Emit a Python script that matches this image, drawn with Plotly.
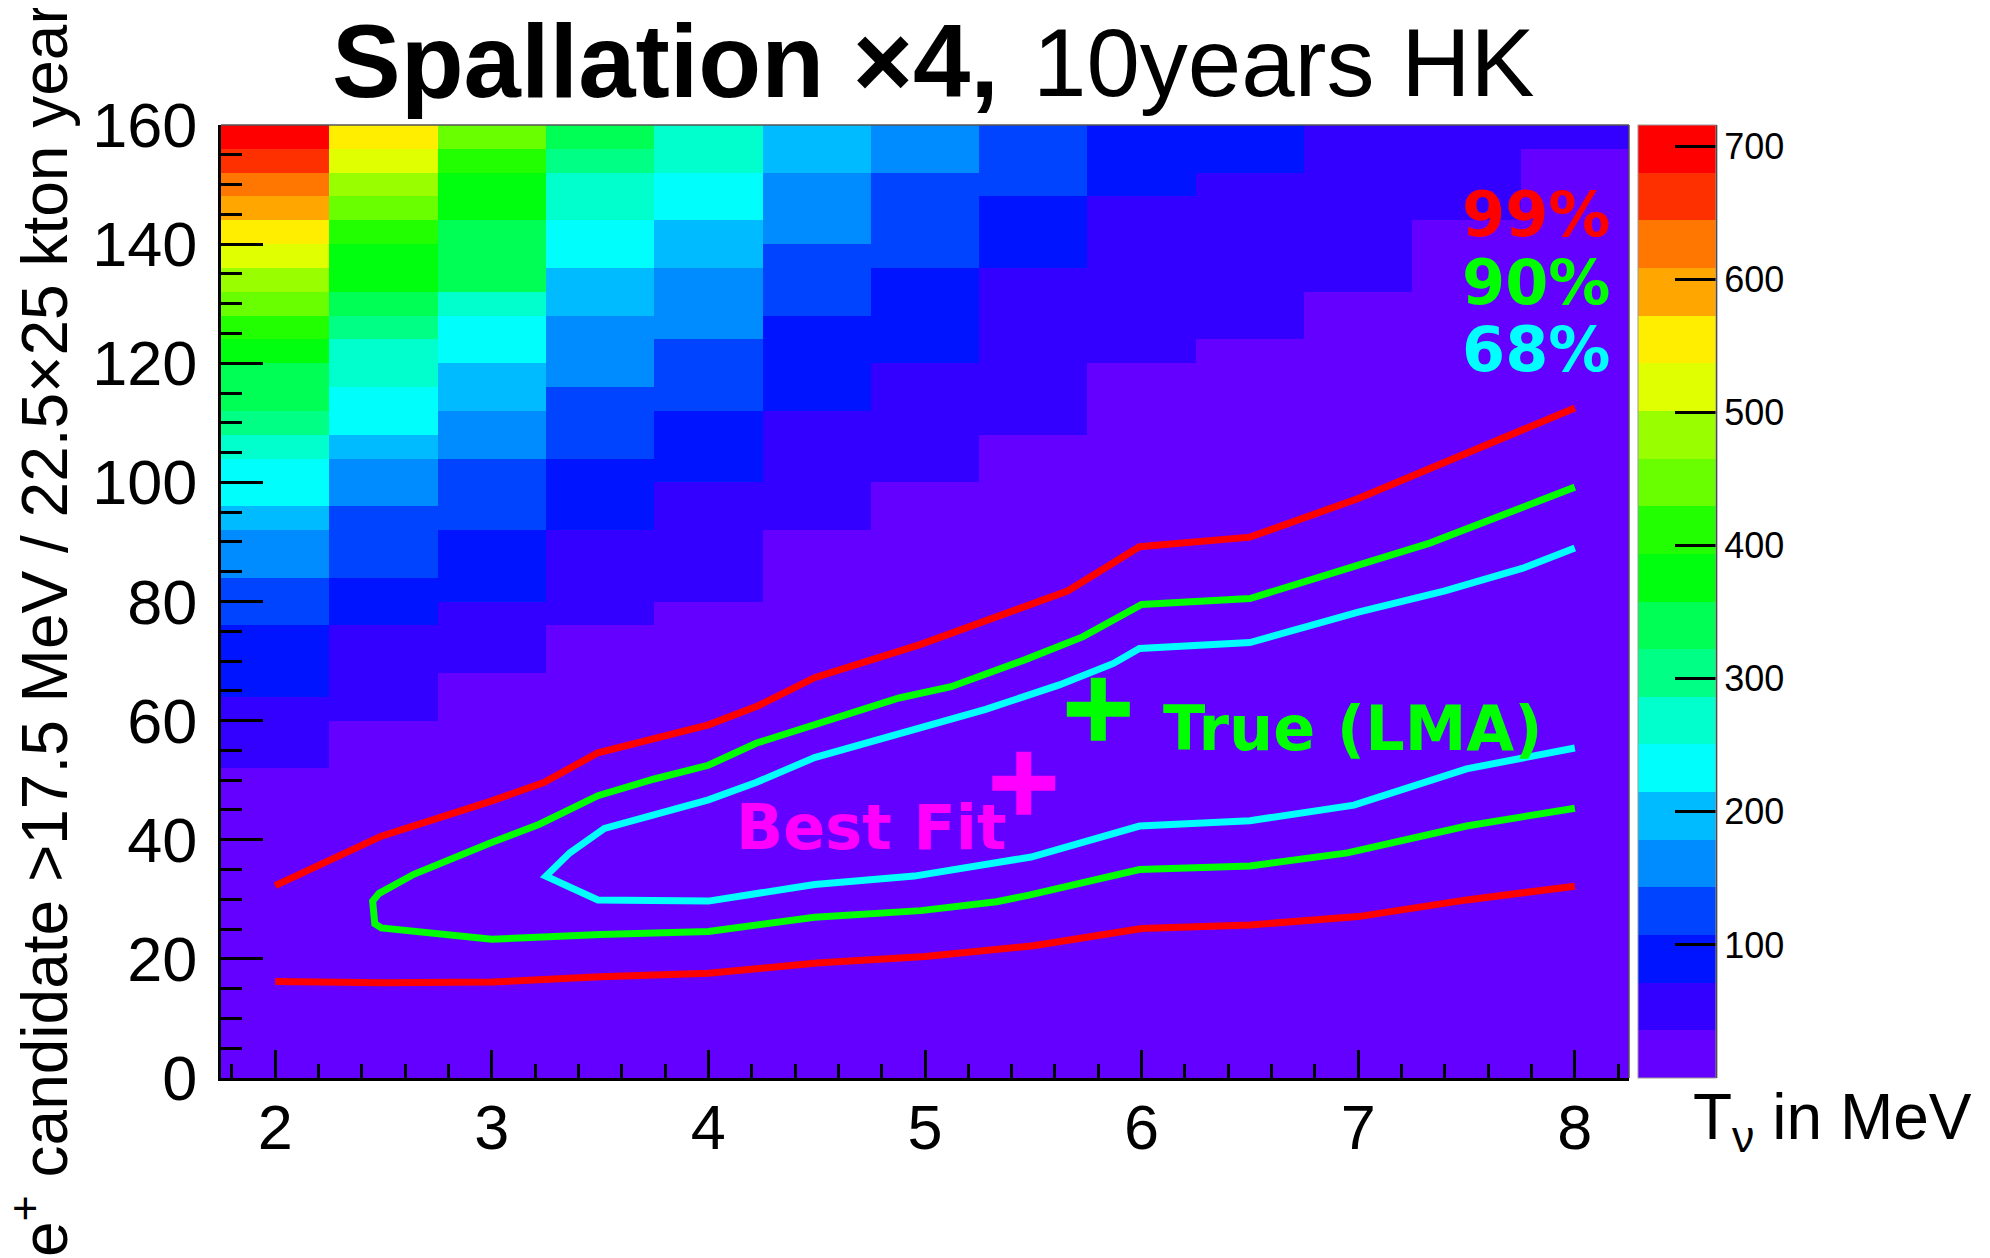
import colorsys
import plotly.graph_objects as go

# ---------------- data ----------------
T_nu = [2.0, 2.5, 3.0, 3.5, 4.0, 4.5, 5.0, 5.5, 6.0, 6.5, 7.0, 7.5, 8.0]
n_cand = [158, 154, 150, 146, 142, 138, 134, 130, 126, 122, 118, 114, 110, 106,
          102, 98, 94, 90, 86, 82, 78, 74, 70, 66, 62, 58, 54, 50, 46, 42, 38,
          34, 30, 26, 22, 18, 14, 10, 6, 2]
# bin contents, one row per n_cand bin (top to bottom), one column per T_nu bin
counts = [
    [716, 555, 448, 340, 269, 197, 161, 125, 90, 90, 54, 54, 54],
    [662, 519, 412, 304, 269, 197, 161, 125, 90, 90, 54, 54, 18],
    [627, 483, 376, 269, 233, 161, 125, 125, 90, 54, 54, 54, 18],
    [591, 448, 376, 269, 233, 161, 125, 90, 54, 54, 54, 54, 18],
    [555, 412, 340, 233, 197, 161, 125, 90, 54, 54, 54, 18, 18],
    [519, 376, 340, 233, 197, 125, 125, 90, 54, 54, 54, 18, 18],
    [483, 376, 340, 197, 161, 125, 90, 54, 54, 54, 54, 18, 18],
    [448, 340, 269, 197, 161, 125, 90, 54, 54, 54, 18, 18, 18],
    [412, 304, 233, 161, 161, 90, 90, 54, 54, 54, 18, 18, 18],
    [376, 269, 233, 161, 125, 90, 90, 54, 54, 18, 18, 18, 18],
    [340, 269, 197, 161, 125, 90, 54, 54, 18, 18, 18, 18, 18],
    [340, 233, 197, 125, 125, 90, 54, 54, 18, 18, 18, 18, 18],
    [304, 233, 161, 125, 90, 54, 54, 54, 18, 18, 18, 18, 18],
    [269, 197, 161, 125, 90, 54, 54, 18, 18, 18, 18, 18, 18],
    [233, 161, 125, 90, 90, 54, 54, 18, 18, 18, 18, 18, 18],
    [233, 161, 125, 90, 54, 54, 18, 18, 18, 18, 18, 18, 18],
    [197, 125, 125, 90, 54, 54, 18, 18, 18, 18, 18, 18, 18],
    [161, 125, 90, 54, 54, 18, 18, 18, 18, 18, 18, 18, 18],
    [161, 125, 90, 54, 54, 18, 18, 18, 18, 18, 18, 18, 18],
    [125, 90, 90, 54, 54, 18, 18, 18, 18, 18, 18, 18, 18],
    [125, 90, 54, 54, 18, 18, 18, 18, 18, 18, 18, 18, 18],
    [90, 54, 54, 18, 18, 18, 18, 18, 18, 18, 18, 18, 18],
    [90, 54, 54, 18, 18, 18, 18, 18, 18, 18, 18, 18, 18],
    [90, 54, 18, 18, 18, 18, 18, 18, 18, 18, 18, 18, 18],
    [54, 54, 18, 18, 18, 18, 18, 18, 18, 18, 18, 18, 18],
    [54, 18, 18, 18, 18, 18, 18, 18, 18, 18, 18, 18, 18],
    [54, 18, 18, 18, 18, 18, 18, 18, 18, 18, 18, 18, 18],
    [18, 18, 18, 18, 18, 18, 18, 18, 18, 18, 18, 18, 18],
    [18, 18, 18, 18, 18, 18, 18, 18, 18, 18, 18, 18, 18],
    [18, 18, 18, 18, 18, 18, 18, 18, 18, 18, 18, 18, 18],
    [18, 18, 18, 18, 18, 18, 18, 18, 18, 18, 18, 18, 18],
    [18, 18, 18, 18, 18, 18, 18, 18, 18, 18, 18, 18, 18],
    [18, 18, 18, 18, 18, 18, 18, 18, 18, 18, 18, 18, 18],
    [18, 18, 18, 18, 18, 18, 18, 18, 18, 18, 18, 18, 18],
    [18, 18, 18, 18, 18, 18, 18, 18, 18, 18, 18, 18, 18],
    [18, 18, 18, 18, 18, 18, 18, 18, 18, 18, 18, 18, 18],
    [18, 18, 18, 18, 18, 18, 18, 18, 18, 18, 18, 18, 18],
    [18, 18, 18, 18, 18, 18, 18, 18, 18, 18, 18, 18, 18],
    [18, 18, 18, 18, 18, 18, 18, 18, 18, 18, 18, 18, 18],
    [18, 18, 18, 18, 18, 18, 18, 18, 18, 18, 18, 18, 18],
]
z_max = 716
n_levels = 20

# 99% contour (two branches)
c99_up_x = [2.0, 2.49, 2.99, 3.24, 3.49, 4.0, 4.23, 4.49, 4.98, 5.45, 5.66, 5.99, 6.5, 7.0, 7.5, 8.0]
c99_up_y = [32.3, 40.6, 46.4, 49.6, 54.6, 59.3, 62.5, 67.2, 72.8, 78.9, 81.8, 89.2, 90.8, 97.3, 104.9, 112.5]
c99_lo_x = [2.0, 2.5, 3.0, 3.5, 4.0, 4.5, 5.0, 5.5, 6.0, 6.5, 7.0, 7.5, 8.0]
c99_lo_y = [16.2, 16.0, 16.1, 17.0, 17.6, 19.3, 20.4, 22.2, 25.1, 25.7, 27.1, 29.9, 32.2]
# 90% contour
c90_x = [8.0, 7.5, 7.33, 7.0, 6.5, 6.0, 5.73, 5.46, 5.12, 4.88, 4.49, 4.22, 4.0, 3.75, 3.49,
         3.22, 2.99, 2.76, 2.64, 2.48, 2.45, 2.46, 2.49, 3.0, 3.5, 4.0, 4.49, 4.98, 5.33,
         5.48, 5.99, 6.5, 6.95, 7.5, 8.0]
c90_y = [99.2, 92.1, 89.8, 86.1, 80.5, 79.5, 74.1, 70.2, 65.7, 63.8, 59.4, 56.2, 52.5, 50.2, 47.4,
         42.6, 39.4, 36.1, 34.2, 31.0, 29.7, 25.9, 25.2, 23.3, 24.1, 24.6, 27.0, 28.1, 29.6,
         30.7, 35.0, 35.6, 37.8, 42.3, 45.3]
# 68% contour
c68_x = [8.0, 7.76, 7.40, 7.0, 6.5, 5.99, 5.87, 5.62, 5.28, 4.95, 4.65, 4.49, 4.22, 4.0, 3.52,
         3.36, 3.25, 3.49, 4.0, 4.49, 4.95, 5.49, 5.99, 6.5, 6.98, 7.5, 8.0]
c68_y = [89.0, 85.6, 81.8, 78.2, 73.1, 72.1, 69.6, 66.0, 61.9, 58.5, 55.3, 53.8, 49.6, 46.7, 41.9,
         37.8, 33.9, 29.9, 29.7, 32.5, 33.9, 37.1, 42.3, 43.2, 45.8, 51.9, 55.4]

true_pt = (5.80, 61.9)
best_pt = (5.456, 49.5)

# ---------------- style ----------------
FONT = "Liberation Sans, Arial, Helvetica, sans-serif"
LFONT = "DejaVu Sans, Liberation Sans, Arial, sans-serif"
W, H = 1990, 1258
OFF = 8                       # default page margin of the html body
PL, PR, PT, PB = 221, 1629, 125, 1078   # plot frame in page pixels
PW, PH = PR - PL, PB - PT
L, T = PL - OFF, PT - OFF
R, B = W - L - PW, H - T - PH


def px_x(p):
    return (p - PL) / PW


def px_y(p):
    return (PB - p) / PH


# ROOT "pretty" palette (HLS hue scan), 20 contour levels
def root_color(k):
    idx = int((k + 0.99) * 50 / n_levels)
    hue = 280 - (idx + 1) * 5.6
    r, g, b = colorsys.hls_to_rgb(max(hue, 0) / 360.0, 0.5, 1.0)
    return "rgb(%d,%d,%d)" % (round(r * 255), round(g * 255), round(b * 255))


cscale = []
for k in range(n_levels):
    c = root_color(k)
    cscale.append([k / n_levels, c])
    cscale.append([(k + 1) / n_levels, c])

fig = go.Figure()
fig.add_trace(go.Heatmap(
    x=T_nu, y=n_cand, z=counts, zmin=0, zmax=z_max,
    colorscale=cscale, hoverinfo="skip",
    colorbar=dict(
        x=px_x(1638), xanchor="left", y=0, yanchor="bottom",
        len=1, lenmode="fraction", thickness=78, thicknessmode="pixels",
        xpad=0, ypad=0, outlinewidth=1, outlinecolor="#999999",
        tickmode="array", tickvals=[100, 200, 300, 400, 500, 600, 700],
        ticks="inside", ticklen=41, tickwidth=2.5, tickcolor="black",
        tickfont=dict(family=FONT, size=36, color="black"),
    ),
))

line_w = 7
fig.add_trace(go.Scatter(x=c99_up_x, y=c99_up_y, mode="lines",
                         line=dict(color="#ff0000", width=line_w), hoverinfo="skip"))
fig.add_trace(go.Scatter(x=c99_lo_x, y=c99_lo_y, mode="lines",
                         line=dict(color="#ff0000", width=line_w), hoverinfo="skip"))
fig.add_trace(go.Scatter(x=c90_x, y=c90_y, mode="lines",
                         line=dict(color="#00ff00", width=line_w), hoverinfo="skip"))
fig.add_trace(go.Scatter(x=c68_x, y=c68_y, mode="lines",
                         line=dict(color="#00ffff", width=line_w), hoverinfo="skip"))

for pt, col in ((true_pt, "#00ff00"), (best_pt, "#ff00ff")):
    fig.add_trace(go.Scatter(
        x=[pt[0]], y=[pt[1]], mode="markers", hoverinfo="skip",
        marker=dict(symbol="cross-thin", size=45, color=col,
                    line=dict(width=15, color=col))))

ann = []
# title (bold part + regular part)
ann.append(dict(text="<b>Spallation ×4,</b>", xref="paper", yref="paper",
                x=px_x(330), y=px_y(61), xanchor="left", yanchor="middle",
                showarrow=False, font=dict(family=FONT, size=103, color="black")))
ann.append(dict(text="10years HK", xref="paper", yref="paper",
                x=px_x(1031), y=px_y(63), xanchor="left", yanchor="middle",
                showarrow=False, font=dict(family=FONT, size=96, color="black")))
# y axis title
ann.append(dict(text="e<sup>+</sup> candidate >17.5 MeV / 22.5×25 kton year",
                xref="paper", yref="paper", x=px_x(40), y=px_y(630),
                xanchor="center", yanchor="middle", textangle=-90, showarrow=False,
                font=dict(family=FONT, size=64, color="black")))
# x axis title
ann.append(dict(text="T<sub>ν</sub> in MeV", xref="paper", yref="paper",
                x=px_x(1974), y=px_y(1121), xanchor="right", yanchor="middle",
                showarrow=False, font=dict(family=FONT, size=64, color="black")))
# CL labels
for txt, col, yc in (("99%", "#ff0000", 214), ("90%", "#00ff00", 282), ("68%", "#00ffff", 349)):
    ann.append(dict(text="<b>%s</b>" % txt, xref="paper", yref="paper",
                    x=px_x(1612), y=px_y(yc), xanchor="right", yanchor="middle",
                    showarrow=False, font=dict(family=LFONT, size=62, color=col)))
ann.append(dict(text="<b>True (LMA)</b>", x=6.09, y=58.6, xanchor="left", yanchor="middle",
                showarrow=False, font=dict(family=LFONT, size=62, color="#00ff00")))
ann.append(dict(text="<b>Best Fit</b>", x=4.12, y=42.1, xanchor="left", yanchor="middle",
                showarrow=False, font=dict(family=LFONT, size=62, color="#ff00ff")))

fig.update_layout(
    width=W, height=H, autosize=False,
    margin=dict(l=L, r=R, t=T, b=B, pad=0),
    paper_bgcolor="white", plot_bgcolor="white",
    showlegend=False, annotations=ann,
    shapes=[
        dict(type="line", xref="paper", yref="paper", x0=0, x1=1, y0=1, y1=1,
             line=dict(color="#555555", width=1.5), layer="above"),
        dict(type="line", xref="paper", yref="paper", x0=1, x1=1, y0=0, y1=1,
             line=dict(color="#555555", width=1.5), layer="above"),
        dict(type="line", xref="paper", yref="paper", x0=px_x(1716), x1=px_x(1716),
             y0=0, y1=1, line=dict(color="black", width=2.5), layer="above"),
    ],
    xaxis=dict(range=[1.75, 8.25], tickmode="array", tickvals=[2, 3, 4, 5, 6, 7, 8],
               ticks="inside", ticklen=28, tickwidth=2.5, tickcolor="black",
               minor=dict(dtick=0.2, tick0=0, ticks="inside", ticklen=14,
                          tickwidth=2.5, tickcolor="black"),
               showline=True, linewidth=3, linecolor="black", mirror=False,
               showgrid=False, zeroline=False, ticklabelstandoff=-8,
               tickfont=dict(family=FONT, size=63, color="black")),
    yaxis=dict(range=[0, 160], tickmode="array", tickvals=list(range(0, 161, 20)),
               ticks="inside", ticklen=42, tickwidth=2.5, tickcolor="black",
               minor=dict(dtick=5, tick0=0, ticks="inside", ticklen=21,
                          tickwidth=2.5, tickcolor="black"),
               showline=True, linewidth=3, linecolor="black", mirror=False,
               showgrid=False, zeroline=False, ticklabelstandoff=8,
               tickfont=dict(family=FONT, size=63, color="black")),
)

fig.write_html("out.html")
